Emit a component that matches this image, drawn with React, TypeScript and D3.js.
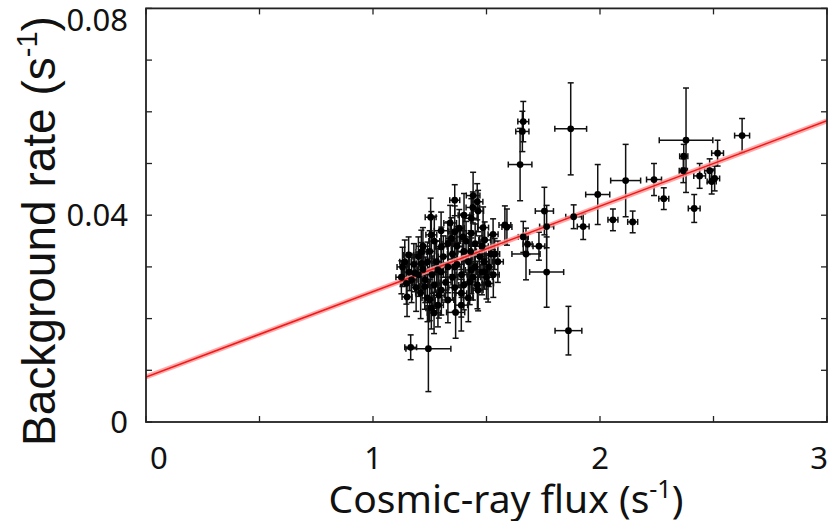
import React from "react";
import * as d3 from "d3";

// Cosmic-ray flux (s^-1) values
const flux = [
  1.581, 1.590, 1.662, 1.658, 1.648, 1.871, 2.379, 2.369, 2.367, 2.439, 2.238, 2.113, 1.990, 2.281, 2.415, 1.884,
  1.755, 2.057, 2.144, 1.926, 1.765, 1.662, 1.681, 1.731, 1.674, 1.765, 2.483, 2.492, 2.505, 2.518, 2.626,
  1.166, 1.244, 1.861, 1.364, 1.269,
  1.254, 1.360, 1.441, 1.459, 1.463, 1.401, 1.433, 1.485, 1.529, 1.492, 1.257, 1.360, 1.396, 1.433, 1.345, 1.301,
  1.213, 1.157, 1.125, 1.147, 1.536, 1.250, 1.426, 1.507, 1.492, 1.433, 1.360, 1.286, 1.213, 1.184, 1.228, 1.301,
  1.389, 1.463, 1.330, 1.286, 1.389, 1.257, 1.150,
  1.13, 1.14, 1.16, 1.17, 1.18, 1.19, 1.20, 1.20, 1.21, 1.22, 1.22, 1.23, 1.24, 1.24, 1.25, 1.26, 1.27, 1.27,
  1.28, 1.29, 1.30, 1.30, 1.31, 1.32, 1.33, 1.33, 1.34, 1.35, 1.35, 1.36, 1.37, 1.37, 1.38, 1.39, 1.40, 1.40,
  1.41, 1.42, 1.42, 1.43, 1.44, 1.44, 1.45, 1.45, 1.46, 1.47, 1.48, 1.48, 1.49, 1.50, 1.51, 1.52, 1.53, 1.55,
];

// Background rate (s^-1) values
const rate = [
  0.0381, 0.0377, 0.0581, 0.0562, 0.0498, 0.0567, 0.0545, 0.0514, 0.0486, 0.0476, 0.0469, 0.0467, 0.0440, 0.0432, 0.0413, 0.0397,
  0.0408, 0.0391, 0.0387, 0.0378, 0.0378, 0.0358, 0.0344, 0.0340, 0.0325, 0.0290, 0.0486, 0.0465, 0.0471, 0.0520, 0.0554,
  0.01445, 0.01418, 0.01767, 0.0212, 0.0211,
  0.0396, 0.0429, 0.0438, 0.0426, 0.0408, 0.0400, 0.0394, 0.0376, 0.0363, 0.0352, 0.0362, 0.0368, 0.0358, 0.0365, 0.0355, 0.0339,
  0.0329, 0.0323, 0.0280, 0.0268, 0.0325, 0.0236, 0.0271, 0.0268, 0.0291, 0.0294, 0.0300, 0.0294, 0.0307, 0.0288, 0.0262, 0.0255,
  0.0249, 0.0255, 0.0236, 0.0226, 0.0226, 0.0220, 0.0242,
  0.0300, 0.0310, 0.0290, 0.0275, 0.0305, 0.0260, 0.0320, 0.0285, 0.0250, 0.0340, 0.0295, 0.0275, 0.0310, 0.0240, 0.0330, 0.0285, 0.0350, 0.0265,
  0.0310, 0.0245, 0.0370, 0.0290, 0.0320, 0.0270, 0.0345, 0.0300, 0.0385, 0.0280, 0.0325, 0.0260, 0.0340, 0.0305, 0.0375, 0.0285, 0.0330, 0.0265,
  0.0350, 0.0310, 0.0240, 0.0330, 0.0280, 0.0415, 0.0300, 0.0345, 0.0265, 0.0320, 0.0290, 0.0340, 0.0310, 0.0280, 0.0300, 0.0325, 0.0285, 0.0310,
];

// Flux uncertainties (half widths)
const fluxErr = [
  0.026, 0.022, 0.024, 0.029, 0.052, 0.070, 0.118, 0.018, 0.018, 0.026, 0.033, 0.066, 0.053, 0.022, 0.026, 0.035,
  0.040, 0.022, 0.022, 0.026, 0.031, 0.022, 0.020, 0.026, 0.062, 0.075, 0.022, 0.020, 0.022, 0.026, 0.033,
  0.026, 0.099, 0.059, 0.040, 0.030,
  0.024, 0.022, 0.030, 0.025, 0.024, 0.026, 0.028, 0.024, 0.022, 0.026, 0.024, 0.026, 0.030, 0.022, 0.024, 0.026,
  0.024, 0.022, 0.024, 0.026, 0.022, 0.024, 0.026, 0.024, 0.022, 0.026, 0.028, 0.024, 0.022, 0.026, 0.024, 0.026,
  0.024, 0.022, 0.026, 0.024, 0.028, 0.024, 0.022,
  0.024, 0.022, 0.026, 0.024, 0.028, 0.022, 0.024, 0.026, 0.022, 0.030, 0.024, 0.022, 0.026, 0.024, 0.022, 0.028, 0.024, 0.026,
  0.022, 0.024, 0.030, 0.026, 0.022, 0.024, 0.026, 0.022, 0.028, 0.024, 0.022, 0.026, 0.024, 0.030, 0.022, 0.024, 0.026, 0.022,
  0.024, 0.028, 0.022, 0.026, 0.024, 0.030, 0.022, 0.024, 0.026, 0.022, 0.024, 0.028, 0.022, 0.026, 0.024, 0.022, 0.026, 0.024,
];

const rateErr = [
  0.0037, 0.0035, 0.0039, 0.0039, 0.0070, 0.0089, 0.0101, 0.0023, 0.0023, 0.0024, 0.0031, 0.0070, 0.0058, 0.0021, 0.0027, 0.0023,
  0.0046, 0.0021, 0.0021, 0.0025, 0.0041, 0.0030, 0.0020, 0.0027, 0.0050, 0.0068, 0.0023, 0.0024, 0.0024, 0.0025, 0.0033,
  0.0024, 0.0083, 0.0047, 0.0050, 0.0040,
  0.0037, 0.0030, 0.0045, 0.0035, 0.0040, 0.0042, 0.0038, 0.0040, 0.0030, 0.0035, 0.0045, 0.0050, 0.0044, 0.0036, 0.0040, 0.0038,
  0.0042, 0.0035, 0.0032, 0.0040, 0.0030, 0.0040, 0.0044, 0.0036, 0.0034, 0.0046, 0.0050, 0.0042, 0.0040, 0.0036, 0.0044, 0.0048,
  0.0046, 0.0040, 0.0044, 0.0042, 0.0050, 0.0040, 0.0038,
  0.0038, 0.0042, 0.0036, 0.0044, 0.0040, 0.0046, 0.0038, 0.0042, 0.0050, 0.0036, 0.0040, 0.0044, 0.0038, 0.0046, 0.0040, 0.0036, 0.0048, 0.0042,
  0.0040, 0.0044, 0.0036, 0.0046, 0.0040, 0.0038, 0.0042, 0.0050, 0.0034, 0.0044, 0.0040, 0.0046, 0.0038, 0.0042, 0.0036, 0.0044, 0.0040, 0.0048,
  0.0038, 0.0042, 0.0046, 0.0040, 0.0044, 0.0030, 0.0042, 0.0038, 0.0046, 0.0040, 0.0044, 0.0036, 0.0040, 0.0042, 0.0038, 0.0036, 0.0044, 0.0040,
];

// Linear fit: rate = intercept + slope * flux
const fitIntercept = 0.0087;
const fitSlope = 0.01652;

const xTicksMajor = [0, 1, 2, 3];
const xTicksMinor = [0.5, 1.5, 2.5];
const yTicksMajor = [0, 0.04, 0.08];
const yTicksMinor = [0.01, 0.02, 0.03, 0.05, 0.06, 0.07];

const W = 828;
const H = 521;
const M = { left: 146, right: 1, top: 8.4, bottom: 99 };

export default function App() {
  const x = d3.scaleLinear().domain([0, 3]).range([M.left, W - M.right]);
  const y = d3.scaleLinear().domain([0, 0.08]).range([H - M.bottom, M.top]);
  const [x0, x1] = x.range();
  const [y0, y1] = y.range();
  const tickLen = 6;
  const cap = 3;
  const tickFont = "'Noto Sans', 'DejaVu Sans', sans-serif";

  const pts = flux.map((f, i) => ({ f, r: rate[i], fe: fluxErr[i], re: rateErr[i] }));

  const fitLine = d3
    .line<number>()
    .x((d) => x(d))
    .y((d) => y(fitIntercept + fitSlope * d));
  const fitPath = fitLine([0, 3]) as string;

  const xTicksAll = [...xTicksMajor, ...xTicksMinor];

  return (
    <svg
      width={W}
      height={H}
      style={{ position: "absolute", left: 0, top: 0, background: "#fff" }}
    >
      <defs>
        <clipPath id="plot">
          <rect x={x0} y={y1} width={x1 - x0} height={y0 - y1} />
        </clipPath>
      </defs>

      {/* error bars */}
      <g stroke="#111" strokeWidth={1.5} fill="none">
        {pts.map((p, i) => {
          const cx = x(p.f);
          const cy = y(p.r);
          const xl = x(p.f - p.fe);
          const xr = x(p.f + p.fe);
          const yt = y(p.r + p.re);
          const yb = y(p.r - p.re);
          return (
            <g key={i}>
              <line x1={xl} x2={xr} y1={cy} y2={cy} />
              <line x1={xl} x2={xl} y1={cy - cap} y2={cy + cap} />
              <line x1={xr} x2={xr} y1={cy - cap} y2={cy + cap} />
              <line x1={cx} x2={cx} y1={yt} y2={yb} />
              <line x1={cx - cap} x2={cx + cap} y1={yt} y2={yt} />
              <line x1={cx - cap} x2={cx + cap} y1={yb} y2={yb} />
            </g>
          );
        })}
      </g>

      {/* fit line with band */}
      <g clipPath="url(#plot)">
        <path d={fitPath} stroke="#ff9a9a" strokeOpacity={0.85} strokeWidth={5} fill="none" />
        <path d={fitPath} stroke="#f01818" strokeWidth={1.5} fill="none" />
      </g>

      {/* points */}
      <g fill="#000">
        {pts.map((p, i) => (
          <circle key={i} cx={x(p.f)} cy={y(p.r)} r={3.4} />
        ))}
      </g>

      {/* frame */}
      <rect x={x0} y={y1} width={x1 - x0} height={y0 - y1} fill="none" stroke="#222" strokeWidth={1.8} />

      {/* ticks */}
      <g stroke="#222" strokeWidth={1.3}>
        {xTicksAll.map((t, i) => (
          <g key={"x" + i}>
            <line x1={x(t)} x2={x(t)} y1={y0} y2={y0 - tickLen} />
            <line x1={x(t)} x2={x(t)} y1={y1} y2={y1 + tickLen} />
          </g>
        ))}
        {[...yTicksMajor, ...yTicksMinor].map((t, i) => (
          <g key={"y" + i}>
            <line x1={x0} x2={x0 + tickLen} y1={y(t)} y2={y(t)} />
            <line x1={x1} x2={x1 - tickLen} y1={y(t)} y2={y(t)} />
          </g>
        ))}
      </g>

      {/* x tick labels */}
      <g fontFamily={tickFont} fontSize={31} fill="#111">
        {xTicksMajor.map((t, i) => {
          const first = i === 0;
          const last = i === xTicksMajor.length - 1;
          return (
            <text
              key={t}
              x={first ? x(t) + 4 : last ? x(t) + 1 : x(t)}
              y={469}
              textAnchor={first ? "start" : last ? "end" : "middle"}
            >
              {String(t)}
            </text>
          );
        })}
      </g>

      {/* y tick labels */}
      <g fontFamily={tickFont} fontSize={31} fill="#111" textAnchor="end">
        {yTicksMajor.map((t) => (
          <text key={t} x={128} y={Math.max(y(t) + 11, 31)}>
            {t === 0 ? "0" : d3.format(".2f")(t)}
          </text>
        ))}
      </g>

      {/* x axis title */}
      <text
        x={506}
        y={513}
        textAnchor="middle"
        fontFamily={tickFont}
        fontSize={39}
        fill="#111"
      >
        Cosmic-ray flux (s
        <tspan fontSize={25} dy={-15}>-1</tspan>
        <tspan dy={15}>)</tspan>
      </text>

      {/* y axis title */}
      <text
        transform={`translate(55,231) rotate(-90)`}
        textAnchor="middle"
        fontFamily="'Liberation Sans', Arial, sans-serif"
        fontSize={46}
        fill="#111"
      >
        Background rate (s
        <tspan fontSize={29} dy={-18}>-1</tspan>
        <tspan dy={18}>)</tspan>
      </text>
    </svg>
  );
}
